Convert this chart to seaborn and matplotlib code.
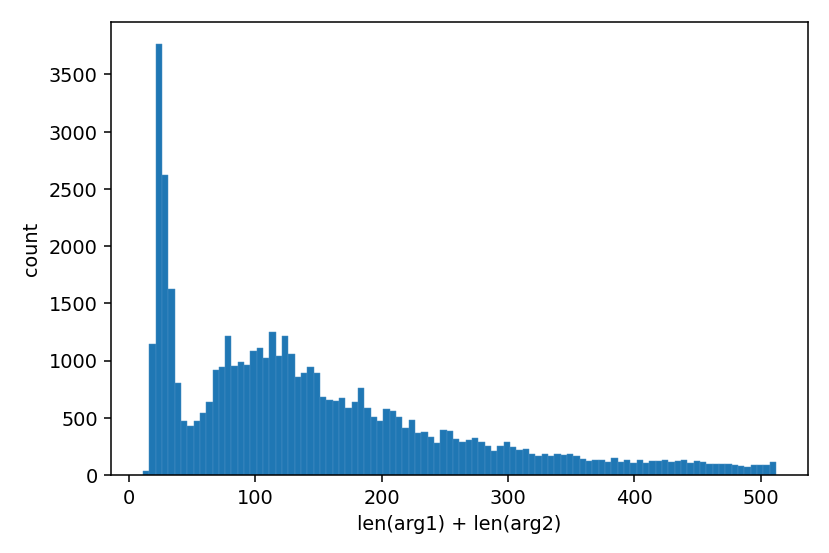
import numpy as np
import pandas as pd
import matplotlib
matplotlib.use("Agg")
import matplotlib.pyplot as plt
import seaborn as sns

# Histogramm: 100 Bins von 11 bis 512 (Breite ~5)
bin_start = 11
bin_end = 512
n_bins = 100

counts = [
    38, 1145, 3767, 2625, 1623, 801, 472, 425, 469, 539,
    635, 915, 941, 1218, 956, 985, 961, 1084, 1107, 1020,
    1253, 1040, 1212, 1060, 859, 894, 944, 889, 679, 655,
    647, 670, 585, 641, 763, 583, 510, 472, 574, 562,
    504, 411, 483, 367, 373, 329, 277, 391, 385, 312,
    291, 303, 319, 287, 253, 210, 251, 286, 242, 222,
    227, 181, 169, 181, 169, 186, 175, 181, 163, 137,
    122, 128, 128, 116, 146, 114, 128, 102, 128, 108,
    119, 122, 131, 114, 122, 131, 105, 119, 111, 93,
    93, 96, 96, 90, 79, 70, 90, 85, 85, 114,
]

edges = np.linspace(bin_start, bin_end, n_bins + 1)
centers = (edges[:-1] + edges[1:]) / 2
df = pd.DataFrame({"len": centers, "count": counts})

fig, ax = plt.subplots(figsize=(6, 4), dpi=138.33)
fig.subplots_adjust(left=0.134, right=0.973, bottom=0.141, top=0.959)

sns.histplot(data=df, x="len", weights="count", bins=n_bins,
             binrange=(bin_start, bin_end), ax=ax,
             color="#1f77b4", alpha=1, edgecolor="#4a90c4", linewidth=0.25)

ax.set_xlabel("len(arg1) + len(arg2)")
ax.set_ylabel("count")
ax.set_xticks([0, 100, 200, 300, 400, 500])
ax.set_yticks(np.arange(0, 3501, 500))

plt.savefig("out.png", dpi=138.33)
